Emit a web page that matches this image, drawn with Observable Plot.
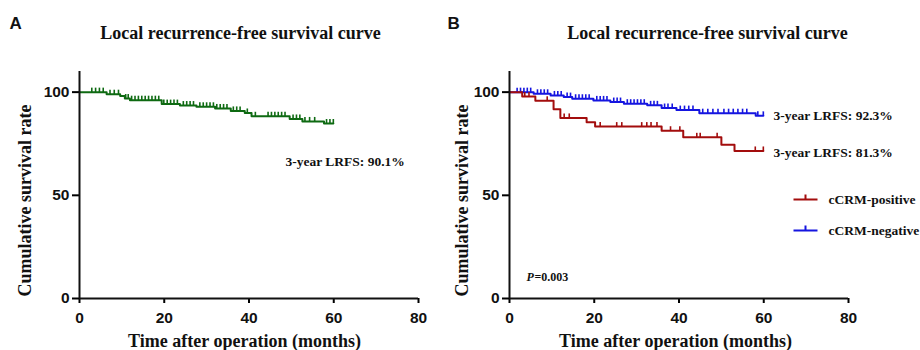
<!DOCTYPE html>
<html>
<head>
<meta charset="utf-8">
<script src="https://cdn.jsdelivr.net/npm/d3@7"></script>
<script src="https://cdn.jsdelivr.net/npm/@observablehq/plot@0.6"></script>
<style>
  html, body { margin: 0; padding: 0; background: #fff; }
  #wrap { display: flex; width: 920px; height: 350px; }
</style>
</head>
<body>
<div id="wrap"></div>
<script>
// ---------- Data ----------
const xTicks = [0, 20, 40, 60, 80];
const yTicks = [0, 50, 100];
const endMonth = 59.9;

// Panel A: overall cohort
const aTimes = [0, 6.4, 9.6, 10.7, 11.9, 19.4, 23.7, 27.6, 32.0, 35.7, 39.0, 40.6, 49.6, 52.6, 57.7];
const aSurv  = [100, 99.0, 98.1, 96.9, 96.1, 94.2, 93.5, 92.9, 92.1, 90.9, 89.9, 88.3, 87.0, 85.8, 84.8];
const aCensor = [2.9, 3.8, 4.7, 5.6, 7.2, 8.2, 9.2, 10.9, 11.5, 12.3, 13.1, 13.9, 14.7, 15.5, 16.3, 17.1, 17.9, 18.7,
  19.9, 20.7, 21.5, 22.3, 23.1, 24.5, 25.3, 26.1, 26.9, 28.4, 29.2, 30.0, 30.8, 31.6, 32.4, 33.2, 34.0, 34.8,
  36.3, 37.1, 37.9, 39.6, 41.5, 44.5, 45.3, 46.1, 46.9, 47.7, 48.5, 50.4, 51.2, 52.0, 53.2, 54.3, 55.5, 58.3, 59.1, 59.9];

// Panel B: cCRM-positive (red)
const posTimes = [0, 3.0, 6.1, 10.4, 12.0, 18.2, 20.2, 35.9, 41.0, 50.0, 53.1];
const posSurv  = [100, 97.9, 95.8, 91.7, 87.5, 85.4, 83.3, 81.3, 78.1, 74.5, 71.5];
const posCensor = [3.6, 4.6, 8.9, 12.9, 14.1, 21.4, 25.3, 26.5, 31.2, 32.4, 33.4, 34.8, 38.0, 40.2, 44.2, 45.0, 49.0, 58.0, 59.9];

// Panel B: cCRM-negative (blue)
const negTimes = [0, 5.7, 9.7, 12.8, 14.8, 19.8, 23.8, 27.0, 32.5, 35.9, 39.4, 44.8, 58.1];
const negSurv  = [100, 99.2, 98.4, 97.6, 96.8, 96.0, 95.2, 94.4, 93.6, 92.3, 91.3, 89.8, 88.5];
const negCensor = [1.8, 2.6, 3.4, 4.2, 5.0, 6.6, 7.4, 8.2, 9.0, 10.6, 11.4, 12.2, 13.6, 14.4, 15.6, 16.4, 17.2, 18.0, 18.8,
  20.6, 21.4, 22.2, 23.0, 24.6, 25.4, 26.2, 27.8, 28.6, 29.4, 30.2, 31.0, 31.8, 33.3, 34.1, 34.9,
  36.6, 37.4, 38.4, 40.3, 41.3, 42.3, 43.3, 45.6, 46.8, 48.0, 49.2, 50.6, 51.7, 52.8, 53.9, 55.0, 56.0, 58.6, 59.9];

const seriesNames = ["cCRM-positive", "cCRM-negative"];
const annotA = "3-year LRFS: 90.1%";
const annotPos = "3-year LRFS: 81.3%";
const annotNeg = "3-year LRFS: 92.3%";
const titleText = "Local recurrence-free survival curve";
const xLabel = "Time after operation (months)";
const yLabel = "Cumulative survival rate";

// ---------- Helpers ----------
const GREEN = "#0e6a12", RED = "#a30d0d", BLUE = "#1515e0";
const serif = "'Liberation Serif', 'Times New Roman', serif";
const sans = "'Liberation Sans', Arial, sans-serif";

function stepPoints(times, surv) {
  const pts = times.map((t, i) => ({t, s: surv[i]}));
  pts.push({t: endMonth, s: surv[surv.length - 1]});
  return pts;
}
function survAt(times, surv, t) {
  let v = surv[0];
  for (let i = 0; i < times.length; i++) if (times[i] <= t) v = surv[i];
  return v;
}
const censorTick = { draw(ctx) { ctx.moveTo(0, 0); ctx.lineTo(0, -4.5); } };
const legendGlyph = { draw(ctx) { ctx.moveTo(-12, 0); ctx.lineTo(12, 0); ctx.moveTo(0, 0); ctx.lineTo(0, -5); } };

function curveMarks(times, surv, censor, color) {
  return [
    Plot.line(stepPoints(times, surv), {x: "t", y: "s", curve: "step-after", stroke: color, strokeWidth: 2}),
    Plot.dot(censor, {x: d => d, y: d => survAt(times, surv, d), symbol: censorTick, fill: "none", stroke: color, strokeWidth: 1.6})
  ];
}

const MT = 71, MB = 52;
function frameText(text, o) {
  return Plot.text([text], Object.assign({text: d => d, fontFamily: serif, fontWeight: "bold", fill: "#111",
    textAnchor: "middle", lineAnchor: "middle"}, o));
}

function commonMarks(letter, letterDx, titleDx, yLabDx, xLabDx) {
  return [
    Plot.axisX({ticks: xTicks, tickSize: 5, tickPadding: 8, strokeWidth: 2, fontSize: 15.5, fontWeight: "bold", fontFamily: sans, label: null, fill: "#111"}),
    Plot.axisY({ticks: yTicks, tickSize: 7, tickPadding: 3, strokeWidth: 2, fontSize: 15.5, fontWeight: "bold", fontFamily: sans, label: null, fill: "#111"}),
    Plot.ruleX([0], {stroke: "#111", strokeWidth: 2}),
    Plot.ruleY([0], {stroke: "#111", strokeWidth: 2}),
    frameText(titleText, {frameAnchor: "top", dx: titleDx, dy: -38, fontSize: 18}),
    frameText(xLabel, {frameAnchor: "bottom", dx: xLabDx, dy: 43, fontSize: 18}),
    frameText(yLabel, {frameAnchor: "left", dx: yLabDx, dy: 15.5, rotate: -90, fontSize: 18}),
    Plot.text([letter], {text: d => d, frameAnchor: "top-left", textAnchor: "start", lineAnchor: "middle", dx: letterDx, dy: -48,
      fontFamily: sans, fontWeight: "bold", fontSize: 17, fill: "#111"})
  ];
}

function makePlot(width, marginLeft, marginRight, marks) {
  return Plot.plot({
    width, height: 350, marginLeft, marginRight, marginTop: MT, marginBottom: MB,
    x: {domain: [0, 80]}, y: {domain: [0, 110]},
    style: {fontFamily: sans, background: "white", overflow: "visible"},
    marks
  });
}

// ---------- Panel A ----------
const plotA = makePlot(440, 79, 22, [
  ...curveMarks(aTimes, aSurv, aCensor, GREEN),
  ...commonMarks("A", -70, -8.5, -54, -4.5),
  frameText(annotA, {frameAnchor: "top-left", textAnchor: "start", dx: 206, dy: 90, fontSize: 13.5})
]);

// ---------- Panel B ----------
const plotB = makePlot(480, 69, 72, [
  ...curveMarks(negTimes, negSurv, negCensor, BLUE),
  ...curveMarks(posTimes, posSurv, posCensor, RED),
  ...commonMarks("B", -62, 28.5, -47, -3.5),
  frameText(annotNeg, {frameAnchor: "top-left", textAnchor: "start", dx: 264, dy: 44, fontSize: 13.5}),
  frameText(annotPos, {frameAnchor: "top-left", textAnchor: "start", dx: 264, dy: 81, fontSize: 13.5}),
  Plot.dot([0], {frameAnchor: "top-left", dx: 296, dy: 128, symbol: legendGlyph, fill: "none", stroke: RED, strokeWidth: 2}),
  Plot.dot([0], {frameAnchor: "top-left", dx: 296, dy: 159, symbol: legendGlyph, fill: "none", stroke: BLUE, strokeWidth: 2}),
  frameText(seriesNames[0], {frameAnchor: "top-left", textAnchor: "start", dx: 319, dy: 128, fontSize: 13.5}),
  frameText(seriesNames[1], {frameAnchor: "top-left", textAnchor: "start", dx: 319, dy: 159, fontSize: 13.5}),
  frameText("P", {frameAnchor: "top-left", textAnchor: "start", dx: 17, dy: 205.5, fontSize: 12, fontStyle: "italic"}),
  frameText("=0.003", {frameAnchor: "top-left", textAnchor: "start", dx: 25, dy: 205.5, fontSize: 12})
]);

document.getElementById("wrap").append(plotA, plotB);
</script>
</body>
</html>
